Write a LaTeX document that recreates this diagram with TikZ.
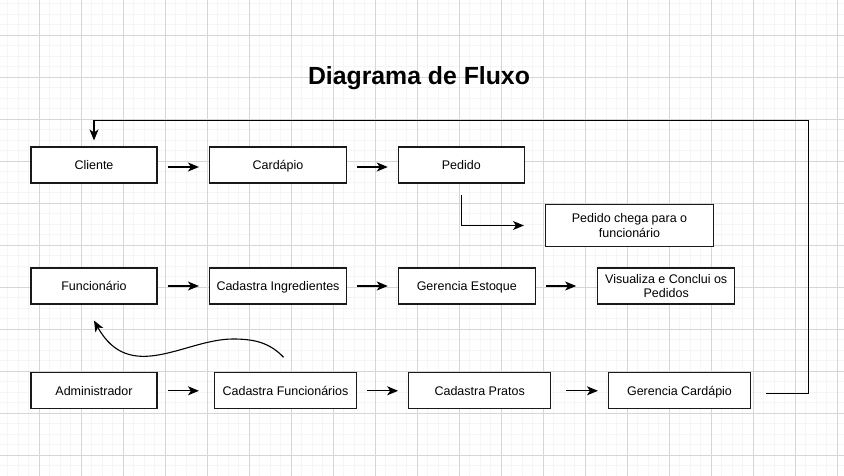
\documentclass[tikz,border=0pt]{standalone}
\usepackage{fontspec}
\setmainfont{Liberation Sans}
\usetikzlibrary{arrows.meta}

\begin{document}
\begin{tikzpicture}[x=1pt, y=-1pt,
    box/.style={draw=black!90, line width=1.1pt, fill=white, minimum height=36pt,
        inner sep=0pt, align=center, font=\fontsize{12.5}{14.5}\selectfont},
    oneline/.style={text height=10.8pt, text depth=2.2pt},
    arr/.style={-{Stealth[length=11pt, width=9pt, inset=3pt]}, line width=1.1pt, black},
    minorgrid/.style={line width=1pt, black!4},
    majorgrid/.style={line width=1pt, black!16}]
    \useasboundingbox (0,0) rectangle (844,476);
    % Grid background
    \fill[white] (0,0) rectangle (844,476);
    \foreach \i in {-4,...,76} \draw[minorgrid] ({39.3+10.5*\i},0) -- ({39.3+10.5*\i},476);
    \foreach \j in {-4,...,42} \draw[minorgrid] (0,{35.3+10.5*\j}) -- (844,{35.3+10.5*\j});
    \foreach \i in {-1,...,19} \draw[majorgrid] ({39.3+42*\i},0) -- ({39.3+42*\i},476);
    \foreach \j in {-1,...,10} \draw[majorgrid] (0,{35.3+42*\j}) -- (844,{35.3+42*\j});
    % Title
    \node[font=\fontsize{24.8}{28}\selectfont\bfseries] (title) at (419,78.5) {Diagrama de Fluxo};
    % Cliente row
    \node[box, oneline, minimum width=126pt]   (cliente) at (94,165)    {Cliente};
    \node[box, oneline, minimum width=137pt]   (cardapio) at (278,165)  {Card\'apio};
    \node[box, oneline, minimum width=126pt]   (pedido) at (461.3,165)  {Pedido};
    \node[box, minimum width=168pt, minimum height=42pt] (chega) at (629.5,225.5)
        {Pedido chega para o\\funcion\'ario};
    % Funcionario row
    \node[box, oneline, minimum width=126pt]   (func) at (94,286)       {Funcion\'ario};
    \node[box, oneline, minimum width=137pt]   (ingred) at (278,286)    {Cadastra Ingredientes};
    \node[box, oneline, minimum width=137pt]   (estoque) at (466.8,286) {Gerencia Estoque};
    \node[box, minimum width=137pt]            (visual) at (666.2,286)  {Visualiza e Conclui os\\Pedidos};
    % Administrador row
    \node[box, oneline, minimum width=126pt]   (admin) at (94,390.8)    {Administrador};
    \node[box, oneline, minimum width=142pt]   (cadfunc) at (285.5,390.8) {Cadastra Funcion\'arios};
    \node[box, oneline, minimum width=142pt]   (pratos) at (479.7,390.8) {Cadastra Pratos};
    \node[box, oneline, minimum width=142pt]   (gercard) at (679.5,390.8) {Gerencia Card\'apio};
    % Arrows
    \draw[arr] ([shift={(10pt,-2pt)}]cliente.east) -- ([shift={(-10pt,-2pt)}]cardapio.west);
    \draw[arr] ([shift={(10pt,-2pt)}]cardapio.east) -- ([shift={(-10pt,-2pt)}]pedido.west);
    \draw[arr] ([yshift=-11pt]pedido.south) |- ([xshift=-21pt]chega.west);
    \draw[arr] ([xshift=10pt]func.east) -- ([xshift=-10pt]ingred.west);
    \draw[arr] ([xshift=10pt]ingred.east) -- ([xshift=-10pt]estoque.west);
    \draw[arr] ([xshift=10pt]estoque.east) -- ([xshift=-21pt]visual.west);
    \draw[arr] ([xshift=10pt]admin.east) -- ([xshift=-15pt]cadfunc.west);
    \draw[arr] ([xshift=10pt]cadfunc.east) -- ([xshift=-10pt]pratos.west);
    \draw[arr] ([xshift=15pt]pratos.east) -- ([xshift=-10pt]gercard.west);
    % Loop back to Cliente
    \coordinate (corner) at (808.3,120.7);
    \draw[arr] ([shift={(15pt,-2.5pt)}]gercard.east) -| (corner) -| ([yshift=6pt]cliente.north);
    % Curved arrow to Funcionario
    \coordinate (hump) at (233,339);
    \draw[arr] ([shift={(-2pt,15pt)}]cadfunc.north) .. controls (270,343) and (255,339) .. (hump)
        .. controls (185,339) and (130,385) .. ([yshift=-16pt]func.south);
\end{tikzpicture}
\end{document}
